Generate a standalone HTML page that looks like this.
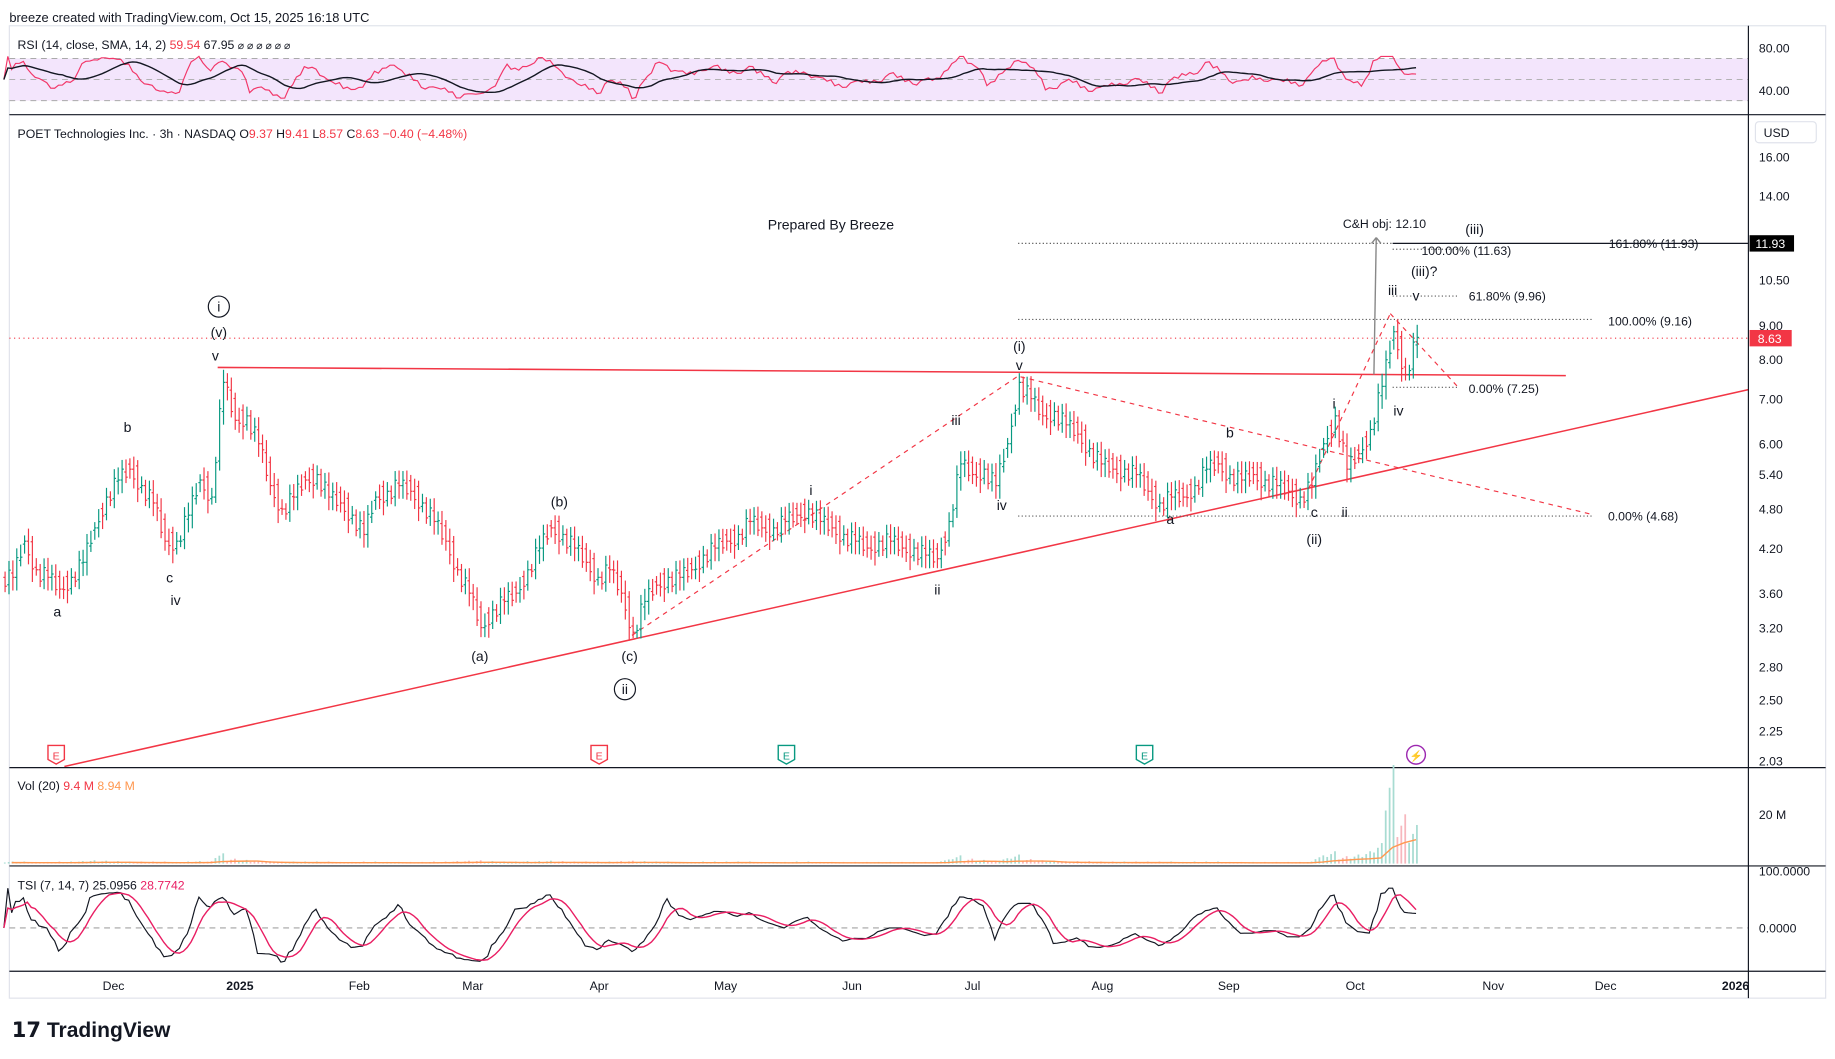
<!DOCTYPE html>
<html><head><meta charset="utf-8">
<style>
html,body{margin:0;padding:0;background:#fff;}
svg{display:block;font-family:"Liberation Sans",sans-serif;}
</style></head>
<body>
<svg id="c" width="1835" height="1059" viewBox="0 0 1568 905" preserveAspectRatio="none" xmlns="http://www.w3.org/2000/svg">
<text x="8" y="19" font-size="11" fill="#131722">breeze created with TradingView.com, Oct 15, 2025 16:18 UTC</text>
<rect x="8" y="22" width="1552" height="831" fill="none" stroke="#e0e3eb"/>
<rect x="8" y="50" width="1486" height="36" fill="#f3e5fc"/>
<g stroke="#aaa" stroke-dasharray="5,4" stroke-width="0.8">
<line x1="8" y1="50" x2="1494" y2="50"/><line x1="8" y1="68" x2="1494" y2="68"/><line x1="8" y1="86" x2="1494" y2="86"/></g>
<text x="15" y="42" font-size="10.5" fill="#131722">RSI (14, close, SMA, 14, 2) <tspan fill="#f23645">59.54</tspan> 67.95 <tspan font-size="9">⌀ ⌀ ⌀ ⌀ ⌀ ⌀</tspan></text>
<text x="1503" y="45" font-size="10.5" fill="#131722">80.00</text>
<text x="1503" y="81" font-size="10.5" fill="#131722">40.00</text>
<g id="rsi"></g>
<line x1="8" y1="98" x2="1560" y2="98" stroke="#131722"/>
<text x="15" y="118" font-size="10.5" fill="#131722">POET Technologies Inc. · 3h · NASDAQ  O<tspan fill="#f23645">9.37</tspan>  H<tspan fill="#f23645">9.41</tspan>  L<tspan fill="#f23645">8.57</tspan>  C<tspan fill="#f23645">8.63</tspan>  <tspan fill="#f23645">−0.40 (−4.48%)</tspan></text>
<rect x="1500" y="104" width="52" height="18" rx="3" fill="#fff" stroke="#e0e3eb"/>
<text x="1507" y="117" font-size="10.5" fill="#131722">USD</text>
<g id="yticks"></g>
<g id="ann"></g>
<g id="bars"></g>
<line x1="8" y1="656" x2="1560" y2="656" stroke="#131722"/>
<text x="15" y="675" font-size="10.5" fill="#131722">Vol (20) <tspan fill="#f23645">9.4 M</tspan> <tspan fill="#ff9850">8.94 M</tspan></text>
<text x="1503" y="700" font-size="10.5" fill="#131722">20 M</text>
<g id="vol"></g>
<line x1="8" y1="740" x2="1560" y2="740" stroke="#131722"/>
<text x="15" y="760" font-size="10.5" fill="#131722">TSI (7, 14, 7) 25.0956 <tspan fill="#e91e63">28.7742</tspan></text>
<line x1="8" y1="793" x2="1494" y2="793" stroke="#888" stroke-dasharray="5,4" stroke-width="0.8"/>
<text x="1503" y="748" font-size="10.5" fill="#131722">100.0000</text>
<text x="1503" y="797" font-size="10.5" fill="#131722">0.0000</text>
<g id="tsi"></g>
<line x1="8" y1="830" x2="1560" y2="830" stroke="#131722"/>
<line x1="1494" y1="22" x2="1494" y2="853" stroke="#131722"/>
<g id="xticks"></g>
<text x="10" y="886" font-size="18" font-weight="bold" fill="#131722">𝟭𝟳 TradingView</text>
</svg>
<script>
const closes=[3.8,4.3,3.9,3.8,3.65,3.8,4.0,4.5,5.0,5.3,5.5,5.2,4.9,4.3,4.3,4.7,5.3,5.0,7.4,6.5,6.6,6.0,5.2,4.8,5.0,5.3,5.4,5.0,4.9,4.7,4.4,5.0,5.1,5.2,5.1,4.9,4.6,4.3,3.9,3.6,3.2,3.4,3.5,3.6,3.9,4.2,4.5,4.4,4.2,4.0,3.8,3.9,3.6,3.15,3.5,3.7,3.8,3.8,3.9,4.1,4.2,4.3,4.4,4.6,4.5,4.5,4.6,4.7,4.8,4.6,4.5,4.4,4.3,4.2,4.3,4.3,4.2,4.2,4.1,4.05,4.6,5.6,5.4,5.5,5.2,6.0,7.4,7.0,6.6,6.7,6.4,6.2,5.9,5.6,5.5,5.5,5.4,5.1,4.9,5.0,5.0,5.2,5.5,5.6,5.4,5.3,5.4,5.3,5.2,5.1,5.0,5.2,6.0,6.6,5.5,5.8,6.3,7.3,8.8,7.6,8.63];
const volumes=[0.5,0.5,0.4,0.4,0.5,0.5,0.6,0.8,0.7,0.6,0.5,0.5,0.5,0.5,0.4,0.5,0.6,0.6,2.5,1.2,0.9,0.7,0.6,0.5,0.5,0.5,0.5,0.5,0.4,0.4,0.5,0.5,0.4,0.4,0.4,0.4,0.5,0.5,0.6,0.7,0.8,0.6,0.5,0.5,0.6,0.6,0.7,0.6,0.5,0.5,0.5,0.5,0.6,0.7,0.6,0.5,0.5,0.4,0.4,0.5,0.5,0.5,0.5,0.5,0.4,0.4,0.4,0.5,0.5,0.4,0.4,0.4,0.4,0.4,0.4,0.4,0.4,0.4,0.4,0.4,1.0,2.0,1.2,0.9,0.7,1.3,2.2,1.1,0.8,0.7,0.6,0.6,0.6,0.5,0.5,0.5,0.5,0.5,0.5,0.5,0.4,0.5,0.5,0.5,0.4,0.4,0.4,0.4,0.4,0.4,0.4,0.5,2.0,3.0,1.8,2.2,3.0,5.0,24,12,9.4];
const yTicks=[16,14,10.5,9,8,7,6,5.4,4.8,4.2,3.6,3.2,2.8,2.5,2.25,2.03];
const xLabels=["Dec","2025","Feb","Mar","Apr","May","Jun","Jul","Aug","Sep","Oct","Nov","Dec","2026"];
const xLabelPos=[97,205,307,404,512,620,728,831,942,1050,1158,1276,1372,1483];
const NS="http://www.w3.org/2000/svg";
function mk(tag,attrs,parent,txt){const e=document.createElementNS(NS,tag);for(const k in attrs)e.setAttribute(k,attrs[k]);if(txt!==undefined)e.textContent=txt;parent.appendChild(e);return e;}
const X0=10,DX=10;
const xOf=i=>X0+i*DX;
const yP=p=>134+(Math.log(16)-Math.log(p))*250;
const yt=document.getElementById('yticks');
yTicks.forEach(v=>{const t=mk('text',{x:1503,y:yP(v)+4,'font-size':10.5,fill:'#131722'},yt,v.toFixed(2));

});
const xt=document.getElementById('xticks');
xLabels.forEach((l,i)=>{const t=mk('text',{x:xLabelPos[i],y:846,'font-size':10.5,'text-anchor':'middle',fill:'#131722','font-weight':(l.length==4?'bold':'normal')},xt,l);

});
const bg=document.getElementById('bars');
let prev=closes[0];
const sub=[];
closes.forEach((c,i)=>{
 for(let k=0;k<3;k++){
  const wig=[0.03,-0.025,0.015][(i+k)%3];
  const o=(prev+(c-prev)*k/3)*(1+(k?wig:0)), cl=(prev+(c-prev)*(k+1)/3)*(1+(k<2?-wig:0));
  sub.push(cl);
  const hi=Math.max(o,cl)*(1.02+0.012*((i+k)%3)), lo=Math.min(o,cl)*(0.98-0.012*((i*2+k)%3));
  const x=xOf(i)-DX+DX*(k+1)/3+1;
  const col=cl>=o?'#089981':'#f23645';
  const g=mk('g',{stroke:col,'stroke-width':1},bg);
  
  
  mk('line',{x1:x,y1:yP(hi),x2:x,y2:yP(lo)},g);
  mk('line',{x1:x-1.5,y1:yP(o),x2:x,y2:yP(o)},g);
  mk('line',{x1:x,y1:yP(cl),x2:x+1.5,y2:yP(cl)},g);
 }
 prev=c;});
const vg=document.getElementById('vol');
const yV=v=>738-v*2.7;
volumes.forEach((v,i)=>{for(let k=0;k<3;k++){const x=xOf(i)-DX+DX*(k+1)/3;
 const vv=v*(0.7+0.3*k);
 const r=mk('rect',{x:x,y:yV(vv),width:1.5,height:738-yV(vv),fill:(closes[i]>=(closes[i-1]||closes[i])?'#a8dcd2':'#f7b7bd')},vg);
 
 }});
let vp='';volumes.forEach((v,i)=>{const s=volumes.slice(Math.max(0,i-3),i+1);const m=s.reduce((a,b)=>a+b,0)/s.length;vp+=(i?'L':'M')+xOf(i)+' '+yV(m*0.6);});
const vl=mk('path',{d:vp,fill:'none',stroke:'#ff9850','stroke-width':1.2},vg);


// RSI from sub-bar closes
const sx=j=>X0-DX+DX*(j+1)/3;
const rsi=[];for(let i=0;i<sub.length;i++){let g=0,l=0;for(let j=Math.max(1,i-6);j<=i;j++){const d=sub[j]-sub[j-1];if(d>0)g+=d;else l-=d;}rsi.push(g+l===0?50:32+40*g/(g+l));}
const yR=v=>41+(80-v)*0.9;
let rp='',rs='';rsi.forEach((v,i)=>{rp+=(i?'L':'M')+sx(i).toFixed(1)+' '+yR(v).toFixed(1);const s=rsi.slice(Math.max(0,i-14),i+1);rs+=(i?'L':'M')+sx(i).toFixed(1)+' '+yR(s.reduce((a,b)=>a+b,0)/s.length).toFixed(1);});
const rg=document.getElementById('rsi');
const r1=mk('path',{d:rp,fill:'none',stroke:'#f23668','stroke-width':1},rg);


const r2=mk('path',{d:rs,fill:'none',stroke:'#131722','stroke-width':1.2},rg);


// TSI
const tsi=[];for(let i=0;i<sub.length;i++){let m=0,a=0;for(let j=Math.max(1,i-8);j<=i;j++){const d=Math.log(sub[j]/sub[j-1]);m+=d;a+=Math.abs(d);}tsi.push(a?100*m/a:0);}
const yT=v=>793-v*0.4;
let tp='',ts='';tsi.forEach((v,i)=>{tp+=(i?'L':'M')+sx(i).toFixed(1)+' '+yT(v*0.85).toFixed(1);const s=tsi.slice(Math.max(0,i-5),i+1);ts+=(i?'L':'M')+sx(i).toFixed(1)+' '+yT(0.85*s.reduce((a,b)=>a+b,0)/s.length).toFixed(1);});
const tg=document.getElementById('tsi');
const t1=mk('path',{d:tp,fill:'none',stroke:'#131722','stroke-width':1},tg);


const t2=mk('path',{d:ts,fill:'none',stroke:'#e91e63','stroke-width':1.2},tg);


const an=document.getElementById('ann');
function ln(x1,y1,x2,y2,st,dash,w,name){const e=mk('line',{x1,y1,x2,y2,stroke:st,'stroke-width':w||1,'stroke-dasharray':dash||'none'},an);

}
ln(8,289,1494,289,'#f23645','1,3',1,'last-price-line');
ln(186,314,1338,321,'#f23645','',1.3,'resistance-line');
ln(55,655,1494,333,'#f23645','',1.3,'support-trendline');
ln(540,543,872,320,'#f23645','4,4',1,'wave-dashed-1');
ln(872,322,1362,440,'#f23645','4,4',1,'wave-dashed-2');
ln(1118,418,1188,268,'#f23645','4,4',1,'wave-dashed-3');
ln(1188,268,1247,332,'#f23645','4,4',1,'wave-dashed-4');
ln(870,208,1190,208,'#555','1,2',1,'fib-161-dotted');
ln(1190,208,1494,208,'#131722','',1,'fib-161-line');
ln(1190,213,1246,213,'#555','1,2',1,'fib-100-upper');
ln(1190,253,1246,253,'#555','1,2',1,'fib-618');
ln(870,273,1362,273,'#555','1,2',1,'fib-100-lower');
ln(1190,331,1246,331,'#555','1,2',1,'fib-0-upper');
ln(870,441,1362,441,'#555','1,2',1,'fib-0-lower');
ln(1174,320,1176,203,'#888','',1.2,'ch-arrow');
ln(1176,203,1172,208,'#888','',1.2,'ch-arrow-head-l');
ln(1176,203,1180,208,'#888','',1.2,'ch-arrow-head-r');
const labels=[
["Prepared By Breeze",710,196,12],["C&H obj: 12.10",1183,195,10.5],["(iii)",1260,200,12],["100.00% (11.63)",1253,218,10.5],["161.80% (11.93)",1413,212,10.5],
["(iii)?",1217,236,12],["iii",1190,252,12],["v",1210,257,12],["61.80% (9.96)",1288,257,10.5],["100.00% (9.16)",1410,278,10.5],
["0.00% (7.25)",1285,336,10.5],["iv",1195,355,12],["0.00% (4.68)",1404,445,10.5],["i",1140,349,12],["b",1051,374,12],
["c",1123,442,12],["ii",1149,442,12],["(ii)",1123,465,12],["a",1000,448,12],["(i)",871,300,12],["v",871,316,12],
["iii",817,363,12],["iv",856,436,12],["ii",801,508,12],["i",693,423,12],["(b)",478,433,12],["(a)",410,565,12],["(c)",538,565,12],
["(v)",187,288,12],["v",184,308,12],["b",109,369,12],["c",145,498,12],["iv",150,517,12],["a",49,527,12]];
labels.forEach(l=>{const t=mk('text',{x:l[1],y:l[2],'font-size':l[3],'text-anchor':'middle',fill:'#131722'},an,l[0]);

});
[[187,262,"i"],[534,589,"ii"]].forEach(c=>{const g=mk('g',{},an);


mk('circle',{cx:c[0],cy:c[1],r:9,fill:'none',stroke:'#131722'},g);mk('text',{x:c[0],y:c[1]+4,'font-size':12,'text-anchor':'middle',fill:'#131722'},g,c[2]);});
const pl=mk('rect',{x:1495,y:201,width:38,height:14,fill:'#000'},an);


mk('text',{x:1500,y:212,'font-size':10.5,fill:'#fff'},an,'11.93');
const pl2=mk('rect',{x:1495,y:282,width:36,height:14,fill:'#f23645'},an);


mk('text',{x:1502,y:293,'font-size':10.5,fill:'#fff'},an,'8.63');
[[48,'#f23645','E'],[512,'#f23645','E'],[672,'#089981','E'],[978,'#089981','E'],[1210,'#9c27b0','⚡']].forEach(m=>{const g=mk('g',{},an);


if(m[2]=='E'){mk('path',{d:`M${m[0]-7} 637 h14 v12 l-7 4 l-7 -4z`,fill:'#fff',stroke:m[1],'stroke-width':1.2},g);}
else{mk('circle',{cx:m[0],cy:645,r:8,fill:'#fff',stroke:m[1],'stroke-width':1.2},g);}
mk('text',{x:m[0],y:649,'font-size':9,'text-anchor':'middle',fill:m[1]},g,m[2]);});
</script>
</body></html>
